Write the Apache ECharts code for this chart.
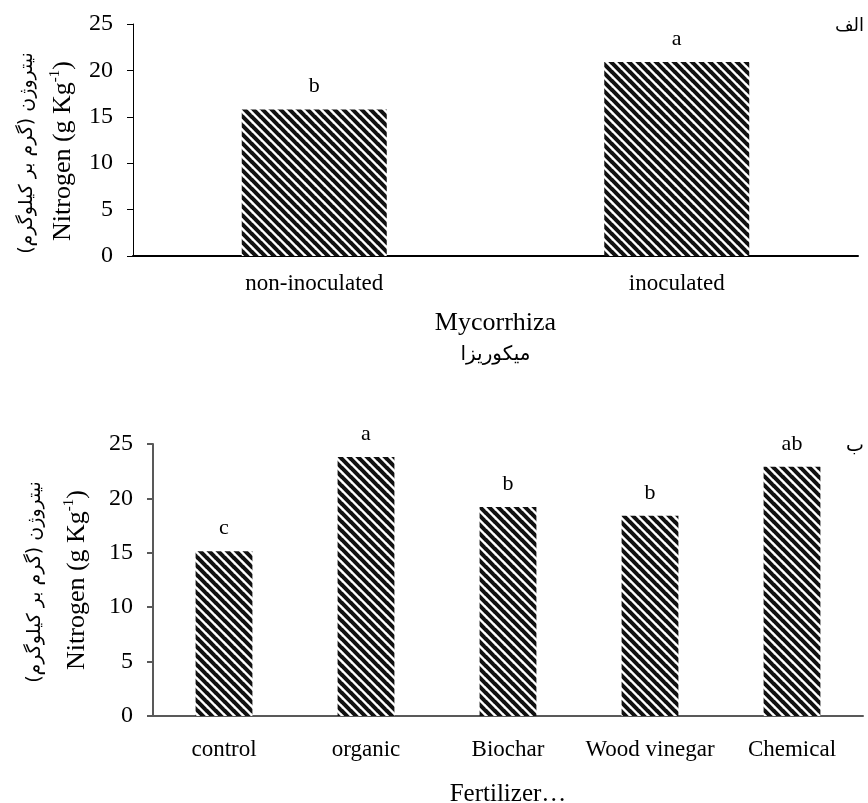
<!DOCTYPE html>
<html>
<head>
<meta charset="utf-8">
<script src="https://cdn.jsdelivr.net/npm/echarts@6/dist/echarts.min.js"></script>
<style>
html, body { margin: 0; padding: 0; background: #fff; }
#main { width: 868px; height: 803px; }
</style>
</head>
<body>
<div id="main"></div>
<script>
// data
var mycoCats = ['non-inoculated', 'inoculated'];
var mycoN = [15.8, 20.9];
var mycoLetters = ['b', 'a'];

var fertCats = ['control', 'organic', 'Biochar', 'Wood vinegar', 'Chemical'];
var fertN = [15.15, 23.8, 19.2, 18.4, 22.9];
var fertLetters = ['c', 'a', 'b', 'b', 'ab'];

var serif = 'Liberation Serif';
var faFont = 'DejaVu Sans';

// diagonal stripe tile
function stripes() {
    var c = document.createElement('canvas');
    c.width = 9; c.height = 9;
    var ctx = c.getContext('2d');
    ctx.fillStyle = '#fff';
    ctx.fillRect(0, 0, 9, 9);
    ctx.strokeStyle = '#111';
    ctx.lineWidth = 4;
    [-9, 0, 9].forEach(function (o) {
        ctx.beginPath();
        ctx.moveTo(-1, o - 1);
        ctx.lineTo(10, o + 10);
        ctx.stroke();
    });
    return c;
}
var pattern = { image: stripes(), repeat: 'repeat' };

var myChart = echarts.init(document.getElementById('main'));

function yAxisOf(idx, color, width) {
    return {
        type: 'value', gridIndex: idx, min: 0, max: 25, interval: 5,
        splitLine: { show: false },
        axisLine: { show: true, lineStyle: { color: color, width: width } },
        axisTick: { show: true, length: 6, lineStyle: { color: color, width: width } },
        axisLabel: { margin: 20, color: '#000', fontFamily: serif, fontSize: 24 }
    };
}

var nameRich = {
    a: { fontFamily: serif, fontSize: 26, color: '#000', lineHeight: 30 },
    s: { fontFamily: serif, fontSize: 15, color: '#000', lineHeight: 30, verticalAlign: 'top', padding: [0, 0, 10, 0] }
};

var option = {
    animation: false,
    grid: [
        { left: 133, right: 10, top: 24, height: 232, outerBoundsMode: 'none' },
        { left: 153, right: 5, top: 444, height: 272, outerBoundsMode: 'none' }
    ],
    xAxis: [
        {
            type: 'category', gridIndex: 0, data: mycoCats,
            axisLine: { lineStyle: { color: '#000', width: 2 } },
            axisTick: { show: false },
            axisLabel: { margin: 16, color: '#000', fontFamily: serif, fontSize: 23 },
            name: '{en|Mycorrhiza}\n{fa|میکوریزا}',
            nameLocation: 'middle', nameGap: 52,
            nameTextStyle: {
                rich: {
                    en: { fontFamily: serif, fontSize: 26, color: '#000', lineHeight: 30 },
                    fa: { fontFamily: faFont, fontSize: 20, color: '#000', lineHeight: 34 }
                }
            }
        },
        {
            type: 'category', gridIndex: 1, data: fertCats,
            axisLine: { lineStyle: { color: '#595959', width: 2 } },
            axisTick: { show: false },
            axisLabel: { interval: 0, margin: 22, color: '#000', fontFamily: serif, fontSize: 23 },
            name: 'Fertilizer…',
            nameLocation: 'middle', nameGap: 66,
            nameTextStyle: { fontFamily: serif, fontSize: 25, color: '#000' }
        }
    ],
    yAxis: [yAxisOf(0, '#000', 1), yAxisOf(1, '#595959', 2)],
    series: [
        {
            type: 'bar', xAxisIndex: 0, yAxisIndex: 0, data: mycoN, barWidth: '40%',
            itemStyle: { color: pattern },
            label: {
                show: true, position: 'top', distance: 12,
                fontFamily: serif, fontSize: 22, color: '#000',
                formatter: function (p) { return mycoLetters[p.dataIndex]; }
            }
        },
        {
            type: 'bar', xAxisIndex: 1, yAxisIndex: 1, data: fertN, barWidth: '40%',
            itemStyle: { color: pattern },
            label: {
                show: true, position: 'top', distance: 12,
                fontFamily: serif, fontSize: 22, color: '#000',
                formatter: function (p) { return fertLetters[p.dataIndex]; }
            }
        }
    ],
    graphic: [
        // y axis titles
        { type: 'text', x: 63, y: 151, rotation: Math.PI / 2,
          style: { text: '{a|Nitrogen (g Kg}{s|-1}{a|)}', rich: nameRich, align: 'center', verticalAlign: 'middle' } },
        { type: 'text', x: 27, y: 153, rotation: Math.PI / 2,
          style: { text: 'نیتروژن (گرم بر کیلوگرم)', fontFamily: faFont, fontSize: 19, fill: '#000', align: 'center', verticalAlign: 'middle' } },
        { type: 'text', x: 77, y: 580, rotation: Math.PI / 2,
          style: { text: '{a|Nitrogen (g Kg}{s|-1}{a|)}', rich: nameRich, align: 'center', verticalAlign: 'middle' } },
        { type: 'text', x: 35, y: 582, rotation: Math.PI / 2,
          style: { text: 'نیتروژن (گرم بر کیلوگرم)', fontFamily: faFont, fontSize: 19, fill: '#000', align: 'center', verticalAlign: 'middle' } },
        // panel letters
        { type: 'text', x: 864, y: 26,
          style: { text: 'الف', fontFamily: faFont, fontSize: 18, fill: '#000', align: 'right', verticalAlign: 'middle' } },
        { type: 'text', x: 864, y: 446,
          style: { text: 'ب', fontFamily: faFont, fontSize: 19, fill: '#000', align: 'right', verticalAlign: 'middle' } }
    ]
};
myChart.setOption(option);
</script>
</body>
</html>
